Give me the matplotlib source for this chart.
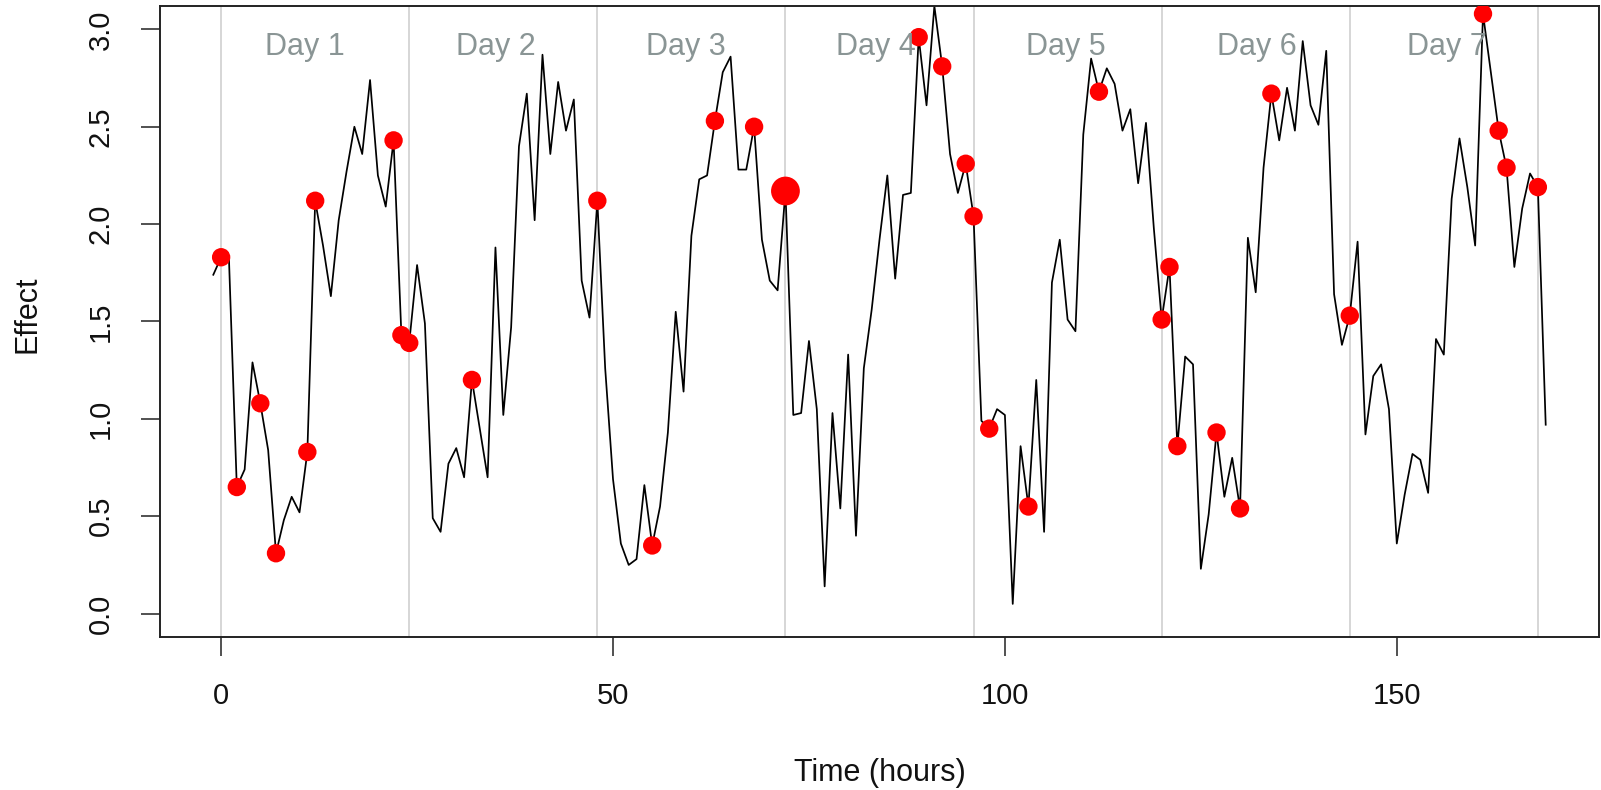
import numpy as np
import matplotlib
matplotlib.use("Agg")
import matplotlib.pyplot as plt

plt.rcParams["font.family"] = ["Liberation Sans", "DejaVu Sans"]

# Hourly effect series, hours -1 .. 169
hours = np.arange(-1, 170)
effect = [
    1.74, 1.83, 1.82, 0.65, 0.74, 1.29, 1.08, 0.84, 0.31, 0.48,   # -1..8
    0.60, 0.52, 0.83, 2.12, 1.89, 1.63, 2.02, 2.27, 2.50, 2.36,   # 9..18
    2.74, 2.25, 2.09, 2.43, 1.43, 1.39, 1.79, 1.49, 0.49, 0.42,   # 19..28
    0.77, 0.85, 0.70, 1.20, 0.95, 0.70, 1.88, 1.02, 1.47, 2.40,   # 29..38
    2.67, 2.02, 2.87, 2.36, 2.73, 2.48, 2.64, 1.71, 1.52, 2.12,   # 39..48
    1.26, 0.69, 0.36, 0.25, 0.28, 0.66, 0.35, 0.55, 0.93, 1.55,   # 49..58
    1.14, 1.94, 2.23, 2.25, 2.53, 2.78, 2.86, 2.28, 2.28, 2.50,   # 59..68
    1.92, 1.71, 1.66, 2.17, 1.02, 1.03, 1.40, 1.05, 0.14, 1.03,   # 69..78
    0.54, 1.33, 0.40, 1.26, 1.56, 1.92, 2.25, 1.72, 2.15, 2.16,   # 79..88
    2.96, 2.61, 3.12, 2.81, 2.36, 2.16, 2.31, 2.04, 0.99, 0.95,   # 89..98
    1.05, 1.02, 0.05, 0.86, 0.55, 1.20, 0.42, 1.70, 1.92, 1.51,   # 99..108
    1.45, 2.46, 2.85, 2.68, 2.80, 2.72, 2.48, 2.59, 2.21, 2.52,   # 109..118
    1.98, 1.51, 1.78, 0.86, 1.32, 1.28, 0.23, 0.51, 0.93, 0.60,   # 119..128
    0.80, 0.54, 1.93, 1.65, 2.29, 2.67, 2.43, 2.70, 2.48, 2.94,   # 129..138
    2.61, 2.51, 2.89, 1.64, 1.38, 1.53, 1.91, 0.92, 1.22, 1.28,   # 139..148
    1.05, 0.36, 0.61, 0.82, 0.79, 0.62, 1.41, 1.33, 2.13, 2.44,   # 149..158
    2.19, 1.89, 3.08, 2.78, 2.48, 2.29, 1.78, 2.08, 2.26, 2.19,   # 159..168
    0.97,                                                         # 169
]

# Hours at which events were recorded (highlighted points)
event_hours = [0, 2, 5, 7, 11, 12, 22, 23, 24, 32, 48, 55, 63, 68,
               89, 92, 95, 96, 98, 103, 112, 120, 121, 122, 127, 130,
               134, 144, 161, 163, 164, 168]
major_event_hours = [72]

day_starts = [0, 24, 48, 72, 96, 120, 144, 168]
day_labels = ["Day 1", "Day 2", "Day 3", "Day 4", "Day 5", "Day 6", "Day 7"]
x_ticks = [0, 50, 100, 150]
y_ticks = [0.0, 0.5, 1.0, 1.5, 2.0, 2.5, 3.0]

effect = np.asarray(effect)
lookup = dict(zip(hours.tolist(), effect.tolist()))

W, H = 1601, 790
fig = plt.figure(figsize=(W / 100, H / 100), dpi=100)
ax = fig.add_axes([160 / W, 1 - 637 / H, (1599 - 160) / W, (637 - 6) / H])

for d in day_starts:
    ax.axvline(d, color="#d6d6d6", lw=1.4, zorder=1)

ax.plot(hours, effect, color="black", lw=1.25, zorder=2)

ax.scatter(event_hours, [lookup[h] for h in event_hours], s=175,
           color="#ff0000", edgecolors="none", zorder=3)
ax.scatter(major_event_hours, [lookup[h] for h in major_event_hours], s=430,
           color="#ff0000", edgecolors="none", zorder=3)

label_x = np.linspace(10.7, 156.4, len(day_labels))
for lx, txt in zip(label_x, day_labels):
    ax.text(lx, 2.91, txt, color="#8a9595", fontsize=22,
            ha="center", va="center", zorder=4)

ax.set_xlim(-7.8, 175.8)
ax.set_ylim(-0.12, 3.12)
ax.set_xticks(x_ticks)
ax.set_xticklabels([str(t) for t in x_ticks])
ax.set_yticks(y_ticks)
ax.set_yticklabels([f"{t:.1f}" for t in y_ticks], rotation=90, va="center")

ax.tick_params(axis="both", direction="out", length=13.5, width=1.1,
               color="#222222", labelsize=21, labelcolor="#111111")
ax.tick_params(axis="x", pad=19)
ax.tick_params(axis="y", pad=19)

for sp in ax.spines.values():
    sp.set_linewidth(1.4)
    sp.set_color("#222222")

fig.text(0.5 * (160 + 1599) / W, 1 - 773 / H, "Time (hours)",
         ha="center", va="center", fontsize=22, color="#111111")
fig.text(28 / W, 1 - 314 / H, "Effect", rotation=90,
         ha="center", va="center", fontsize=22, color="#111111")

fig.savefig("out.png", dpi=100)
